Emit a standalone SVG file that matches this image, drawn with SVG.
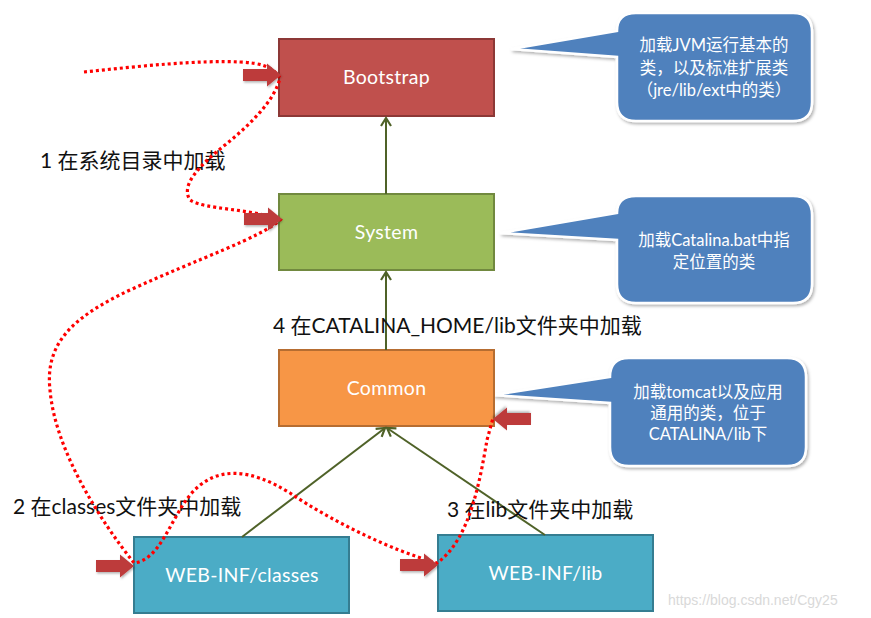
<svg xmlns="http://www.w3.org/2000/svg" width="871" height="618" viewBox="0 0 871 618">
<style>
.box{stroke-width:2}
.blabel{font-family:Lato,"Noto Sans CJK SC",sans-serif;font-size:19.5px;letter-spacing:0.3px;fill:#ffffff;text-anchor:middle}
.lbl{font-family:Lato,"Noto Sans CJK SC",sans-serif;font-size:21px;fill:#111111}
.ct{font-family:Lato,"Noto Sans CJK SC",sans-serif;font-size:16.5px;fill:#ffffff;text-anchor:middle}
.callout{fill:#4f81bd;stroke:#ffffff;stroke-width:2.5;filter:url(#sh)}
.conn{stroke:#4f6228;stroke-width:2;fill:none;marker-end:url(#open)}
.dots{stroke:#ff0000;stroke-width:3.2;fill:none;stroke-dasharray:3 3}
.blk{fill:#bd3a3a;filter:url(#sh2)}
</style>
<defs>
<filter id="sh" x="-20%" y="-20%" width="140%" height="140%">
<feDropShadow dx="1.5" dy="2" stdDeviation="1.5" flood-color="#000" flood-opacity="0.3"/>
</filter>
<filter id="sh2" x="-20%" y="-30%" width="140%" height="160%">
<feDropShadow dx="1" dy="1.5" stdDeviation="1" flood-color="#000" flood-opacity="0.3"/>
</filter>
<marker id="open" markerUnits="userSpaceOnUse" markerWidth="14" markerHeight="14" refX="10" refY="6" orient="auto" viewBox="0 0 14 12">
<path d="M2,1 L10,6 L2,11" fill="none" stroke="#4f6228" stroke-width="2.2"/>
</marker>
<path id="ba" d="M -38,-6 H -14 V -11.5 L 0,0 L -14,11.5 V 6 H -38 Z"/>
</defs>

<g id="callout1">
<path class="callout" d="M 636,13 H 793 Q 812,13 812,32 V 102 Q 812,121 793,121 H 636 Q 617,121 617,102 V 57 L 511,49 L 617,31 Q 617,13 636,13 Z"/>
<text class="ct" x="714" y="51">加载JVM运行基本的</text>
<text class="ct" x="714" y="74">类，以及标准扩展类</text>
<text class="ct" x="714" y="96">（jre/lib/ext中的类）</text>
</g>
<g id="callout2">
<path class="callout" d="M 636,196 H 793 Q 812,196 812,215 V 284 Q 812,303 793,303 H 636 Q 617,303 617,284 V 240 L 500,233 L 617,213 Q 617,196 636,196 Z"/>
<text class="ct" x="714" y="246">加载Catalina.bat中指</text>
<text class="ct" x="714" y="268">定位置的类</text>
</g>
<g id="callout3">
<path class="callout" d="M 629,358 H 787 Q 806,358 806,377 V 447 Q 806,466 787,466 H 629 Q 610,466 610,447 V 403 L 493,395 L 610,377 Q 610,358 629,358 Z"/>
<text class="ct" x="708" y="398">加载tomcat以及应用</text>
<text class="ct" x="708" y="419">通用的类，位于</text>
<text class="ct" x="708" y="440">CATALINA/lib下</text>
</g>

<g id="bootstrap">
<rect class="box" x="279" y="39" width="215" height="77" fill="#c0504d" stroke="#8c3836"/>
<text class="blabel" x="386.5" y="84">Bootstrap</text>
</g>
<g id="system">
<rect class="box" x="279" y="194" width="215" height="76" fill="#9bbb59" stroke="#71893f"/>
<text class="blabel" x="386.5" y="239">System</text>
</g>
<g id="common">
<rect class="box" x="279" y="350" width="215" height="76" fill="#f79646" stroke="#b66d31"/>
<text class="blabel" x="386.5" y="395">Common</text>
</g>
<g id="webinf-classes">
<rect class="box" x="134" y="537" width="215" height="76" fill="#4bacc6" stroke="#357d91"/>
<text class="blabel" x="242" y="582">WEB-INF/classes</text>
</g>
<g id="webinf-lib">
<rect class="box" x="438" y="535" width="215" height="76" fill="#4bacc6" stroke="#357d91"/>
<text class="blabel" x="545.5" y="580">WEB-INF/lib</text>
</g>

<g id="connectors">
<line class="conn" x1="386" y1="194" x2="386" y2="118"/>
<line class="conn" x1="386" y1="350" x2="386" y2="272"/>
<line class="conn" x1="242" y1="537" x2="385" y2="428"/>
<line class="conn" x1="545" y1="535" x2="387" y2="428"/>
</g>

<g id="labels">
<text class="lbl" x="40" y="168">1 在系统目录中加载</text>
<text class="lbl" x="273" y="333">4 在CATALINA_HOME/lib文件夹中加载</text>
<text class="lbl" x="13" y="514">2 在classes文件夹中加载</text>
<text class="lbl" x="447" y="517">3 在lib文件夹中加载</text>
</g>

<g id="red-path">
<path class="dots" d="M 84,72 C 140,66 200,60 240,62 C 260,63 272,66 280,78 C 275,100 250,125 225,145 C 200,165 180,185 190,200 C 205,210 250,208 280,220 C 260,238 200,258 130,290 C 70,318 45,345 50,390 C 55,450 100,520 134,563 C 160,560 170,520 190,495 C 215,465 250,468 290,493 C 330,520 390,550 437,563 C 470,540 480,480 487,440 L 493,418"/>
</g>

<g id="block-arrows">
<use href="#ba" class="blk" transform="translate(281,75)"/>
<use href="#ba" class="blk" transform="translate(282,219)"/>
<use href="#ba" class="blk" transform="translate(134,566)"/>
<use href="#ba" class="blk" transform="translate(438,565)"/>
<use href="#ba" class="blk" transform="translate(493,419) rotate(180)"/>
</g>

<text x="668" y="605" font-family="Liberation Sans,Arial,sans-serif" font-size="14" fill="#d9d9d9">https://blog.csdn.net/Cgy25</text>
</svg>
